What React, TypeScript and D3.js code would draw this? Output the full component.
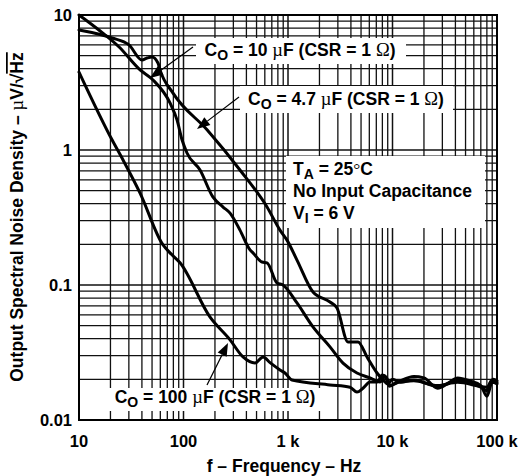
import React from "react";
import * as d3 from "d3";

type Pt = [number, number];

const co10: Pt[] = [
  [10, 10], [15.5, 7.74], [24.2, 5.79], [38.4, 3.92], [51.1, 3.3], [74.3, 2.23],
  [86.7, 1.67], [96.8, 1.19], [108, 0.95], [144, 0.711], [191, 0.449], [239, 0.378],
  [279, 0.341], [347, 0.255], [433, 0.182], [462, 0.173], [564, 0.148], [630, 0.146],
  [785, 0.1035], [895, 0.1], [1219, 0.0736], [1734, 0.0489], [2523, 0.0348],
  [3360, 0.0264], [4571, 0.0223], [6095, 0.0205], [7586, 0.0191], [8500, 0.021],
  [9300, 0.0178], [10500, 0.0185], [12000, 0.0195], [16000, 0.021], [20000, 0.0205],
  [27000, 0.0172], [35000, 0.019], [42000, 0.0205], [55000, 0.0195], [70000, 0.018],
  [80000, 0.015], [90000, 0.019], [100000, 0.0185],
];

const co47: Pt[] = [
  [10, 7.74], [20.7, 6.76], [30.1, 6.0], [40.1, 4.64], [44.8, 4.8], [50, 4.89],
  [57, 4.41], [59.6, 3.92], [79.4, 2.64], [168, 1.41], [347, 0.711], [630, 0.378],
  [838, 0.255], [978, 0.215], [1219, 0.153], [1734, 0.0888], [2523, 0.0748],
  [2944, 0.0676], [3750, 0.0379], [4677, 0.0379], [5703, 0.0293], [7112, 0.0223],
  [8110, 0.0198], [9000, 0.0185], [10000, 0.02], [12000, 0.019], [16000, 0.0198],
  [27000, 0.0178], [42000, 0.0195], [70000, 0.0175], [80000, 0.0165], [88000, 0.0195],
  [100000, 0.019],
];

const co100: Pt[] = [
  [10, 3.78], [20.7, 1.19], [26.4, 0.843], [38.4, 0.48], [63.7, 0.198], [74.3, 0.173],
  [92.7, 0.146], [179, 0.058], [279, 0.0392], [371, 0.0293], [483, 0.0264], [577, 0.0293],
  [673, 0.0266], [838, 0.0235], [935, 0.0223], [1091, 0.0198], [2523, 0.0182],
  [3918, 0.0175], [4571, 0.0161], [5221, 0.0172], [6095, 0.0191], [7112, 0.0191],
  [8000, 0.0215], [8800, 0.0205], [9500, 0.018], [11000, 0.019], [16000, 0.0195],
  [27000, 0.018], [42000, 0.019], [80000, 0.0175], [92000, 0.02], [100000, 0.0195],
];

const xTicks = [10, 100, 1000, 10000, 100000];
const xTickLabels = ["10", "100", "1 k", "10 k", "100 k"];
const yTicks = [0.01, 0.1, 1, 10];
const yTickLabels = ["0.01", "0.1", "1", "10"];

const W = 521;
const H = 476;
const L = 79, R = 497, T = 15, B = 420;

export default function App() {
  const x = d3.scaleLog().domain([10, 100000]).range([L, R]);
  const y = d3.scaleLog().domain([0.01, 10]).range([B, T]);

  const line = d3
    .line<Pt>()
    .x((d) => x(d[0]))
    .y((d) => y(d[1]))
    .curve(d3.curveMonotoneX);

  const xGrid: number[] = [];
  for (let dec = 10; dec < 100000; dec *= 10)
    for (let m = 2; m <= 9; m++) xGrid.push(dec * m);
  const yGrid: number[] = [];
  for (let dec = 0.01; dec < 9; dec *= 10)
    for (let m = 2; m <= 9; m++) yGrid.push(dec * m);

  const font = "'Liberation Sans', Arial, sans-serif";
  const serif = "'Liberation Serif', 'Times New Roman', serif";
  const bold = { fontFamily: font, fontWeight: 700, fill: "#000" } as const;
  const FS = 17.5;
  const SUB = 14;

  const coLabel = (cx: number, cy: number, val: string) => (
    <text x={cx} y={cy} textAnchor="middle" fontSize={FS} style={bold}>
      <tspan>C</tspan>
      <tspan fontSize={SUB} dy={4}>O</tspan>
      <tspan dy={-4}>{` = ${val} `}</tspan>
      <tspan fontFamily={serif} fontWeight={400} fontSize={FS + 1}>µ</tspan>
      <tspan>F (CSR = 1 </tspan>
      <tspan fontFamily={serif} fontWeight={400} fontSize={FS + 1}>Ω</tspan>
      <tspan>)</tspan>
    </text>
  );

  const arrow = (x1: number, y1: number, x2: number, y2: number) => {
    const ang = Math.atan2(y2 - y1, x2 - x1);
    const len = 13, wid = 5;
    const bx = x2 - len * Math.cos(ang), by = y2 - len * Math.sin(ang);
    const px = -Math.sin(ang) * wid, py = Math.cos(ang) * wid;
    return (
      <g>
        <line x1={x1} y1={y1} x2={bx} y2={by} stroke="#000" strokeWidth={1.2} />
        <polygon points={`${x2},${y2} ${bx + px},${by + py} ${bx - px},${by - py}`} fill="#000" />
      </g>
    );
  };

  return (
    <svg width={W} height={H} style={{ position: "absolute", left: 0, top: 0, background: "#fff" }}>
      <rect x={0} y={0} width={W} height={H} fill="#fff" />
      <g>
        {xGrid.map((v) => (
          <line key={"xg" + v} x1={x(v)} x2={x(v)} y1={T} y2={B} stroke="#111" strokeWidth={1.3} />
        ))}
        {xTicks.map((v) => (
          <line key={"xm" + v} x1={x(v)} x2={x(v)} y1={T} y2={B} stroke="#111" strokeWidth={1.5} />
        ))}
        {yGrid.map((v) => (
          <line key={"yg" + v} x1={L} x2={R} y1={y(v)} y2={y(v)} stroke="#111" strokeWidth={1.3} />
        ))}
        {yTicks.map((v) => (
          <line key={"ym" + v} x1={L} x2={R} y1={y(v)} y2={y(v)} stroke="#111" strokeWidth={1.5} />
        ))}
      </g>

      {/* white label boxes */}
      <rect x={196} y={38} width={210} height={26} fill="#fff" />
      <rect x={240} y={86} width={213} height={27} fill="#fff" />
      <rect x={286} y={156} width={199} height={72} fill="#fff" />
      <rect x={104} y={388} width={218} height={23} fill="#fff" />

      <g fill="none" stroke="#000" strokeWidth={3} strokeLinejoin="round" strokeLinecap="round">
        <path d={line(co10) || ""} />
        <path d={line(co47) || ""} />
        <path d={line(co100) || ""} />
      </g>

      <rect x={L} y={T} width={R - L} height={B - T} fill="none" stroke="#000" strokeWidth={2} />

      {arrow(193, 47, 150, 78)}
      {arrow(239, 97, 197, 129)}
      {arrow(207, 385, 228, 343)}

      {coLabel(300, 56, "10")}
      {coLabel(346, 105, "4.7")}
      {coLabel(215, 403, "100")}

      <text x={293} y={175} fontSize={FS} style={bold}>
        <tspan>T</tspan>
        <tspan fontSize={SUB} dy={4}>A</tspan>
        <tspan dy={-4}> = 25</tspan>
        <tspan fontFamily={serif} fontWeight={400}>°</tspan>
        <tspan>C</tspan>
      </text>
      <text x={293} y={197} fontSize={FS} style={bold}>No Input Capacitance</text>
      <text x={293} y={219} fontSize={FS} style={bold}>
        <tspan>V</tspan>
        <tspan fontSize={SUB} dy={4}>I</tspan>
        <tspan dy={-4}> = 6 V</tspan>
      </text>

      {xTicks.map((v, i) => (
        <text key={"xt" + v} x={x(v)} y={447} textAnchor="middle" fontSize={16.5} style={bold}>
          {xTickLabels[i]}
        </text>
      ))}
      {yTicks.map((v, i) => (
        <text key={"yt" + v} x={72} y={y(v) + 6} textAnchor="end" fontSize={16.5} style={bold}>
          {yTickLabels[i]}
        </text>
      ))}

      <text x={284} y={472} textAnchor="middle" fontSize={FS} style={bold}>
        f – Frequency – Hz
      </text>

      <text transform="translate(23,217) rotate(-90)" textAnchor="middle" fontSize={FS} style={bold}>
        <tspan>Output Spectral Noise Density – </tspan>
        <tspan fontFamily={serif} fontWeight={400} fontSize={FS + 1}>µ</tspan>
        <tspan>V/√</tspan>
        <tspan style={{ textDecoration: "overline" }}>Hz</tspan>
      </text>
    </svg>
  );
}
